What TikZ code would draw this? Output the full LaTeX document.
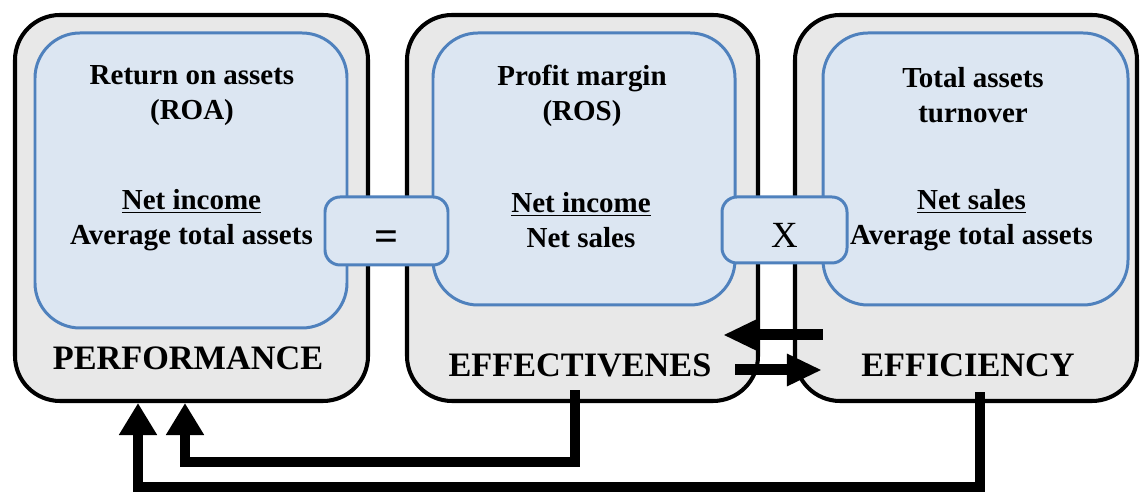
\documentclass[tikz,border=0pt]{standalone}
\usepackage{fontspec}
\setmainfont{Liberation Serif}
\usetikzlibrary{arrows.meta}
\definecolor{boxblue}{RGB}{79,129,189}
\definecolor{paleblue}{RGB}{220,230,242}
\definecolor{granite}{RGB}{232,232,232}

\begin{document}
\begin{tikzpicture}
 \tikzstyle{outer}=[draw=black, line width=2.3pt, fill=granite, rounded corners=0.9cm, minimum height=7.72cm]
 \tikzstyle{inner}=[draw=boxblue, line width=1.7pt, fill=paleblue, rounded corners=0.9cm]
 \tikzstyle{oper}=[draw=boxblue, line width=1.7pt, fill=paleblue, rounded corners=0.3cm, minimum width=2.46cm, minimum height=1.36cm, text depth=0cm]
 \tikzstyle{txt}=[text=black, align=center, font=\fontsize{16.5}{20}\selectfont\bfseries]
 \tikzstyle{area}=[text=black, font=\fontsize{19.5}{23}\selectfont\bfseries]
 \tikzstyle{feed}=[-{Triangle[width=0.72cm,length=0.64cm]}, line width=0.19cm]
 \tikzstyle{swap}=[-{Triangle[width=0.6cm,length=0.7cm]}, line width=0.22cm]
 %
 \useasboundingbox (0,0) rectangle (22.8,9.88);
 %
 \node[outer, minimum width=7.06cm] (perf) at (3.83, 5.72) {};
 \node[outer, minimum width=7.02cm] (effect) at (11.65, 5.72) {};
 \node[outer, minimum width=6.84cm] (effic) at (19.32, 5.72) {};
 %
 \node[inner, minimum width=6.24cm, minimum height=5.9cm] (roa) at (3.82, 6.27) {};
 \node[inner, minimum width=6.04cm, minimum height=5.44cm] (ros) at (11.68, 6.5) {};
 \node[inner, minimum width=6.1cm, minimum height=5.44cm] (tat) at (19.51, 6.5) {};
 %
 \node[oper, text height=0.8cm, font=\fontsize{24}{28}\selectfont\bfseries] (eq) at (7.73, 5.26) {=};
 \node[oper, text height=0.69cm, font=\fontsize{21}{25}\selectfont, minimum width=2.5cm, minimum height=1.32cm] (times) at (15.69, 5.28) {X};
 %
 \node[txt] (roaT) at (3.84, 7.97) {Return on assets\\(ROA)};
 \node[txt] (roaF) at (3.83, 5.47) {\underline{Net income}\\Average total assets};
 \node[area] (perfL) at (3.76, 2.72) {PERFORMANCE};
 %
 \node[txt] (rosT) at (11.64, 7.97) {Profit margin\\(ROS)};
 \node[txt] (rosF) at (11.62, 5.47) {\underline{Net income}\\Net sales};
 \node[area] (effectL) at (11.6, 2.58) {EFFECTIVENES};
 %
 \node[txt] (tatT) at (19.46, 7.97) {Total assets\\turnover};
 \node[txt] (tatF) at (19.43, 5.47) {\underline{Net sales}\\Average total assets};
 \node[area] (efficL) at (19.36, 2.58) {EFFICIENCY};
 %%
 \coordinate (bendA) at (2.76, 0.14);
 \coordinate (bendB) at (3.7, 0.64);
 \draw[feed] ([xshift=0.28cm, yshift=0.22cm]effic.south) |- (bendA) -- (bendA |- perf.south);
 \draw[feed] ([xshift=-0.15cm, yshift=0.26cm]effect.south) |- (bendB) -- (bendB |- perf.south);
 \draw[swap] ([xshift=0.6cm, yshift=-2.54cm]effic.west) -- ([xshift=-0.74cm, yshift=-2.54cm]effect.east);
 \draw[swap] ([xshift=-0.5cm, yshift=-3.24cm]effect.east) -- ([xshift=0.58cm, yshift=-3.24cm]effic.west);
\end{tikzpicture}
\end{document}
